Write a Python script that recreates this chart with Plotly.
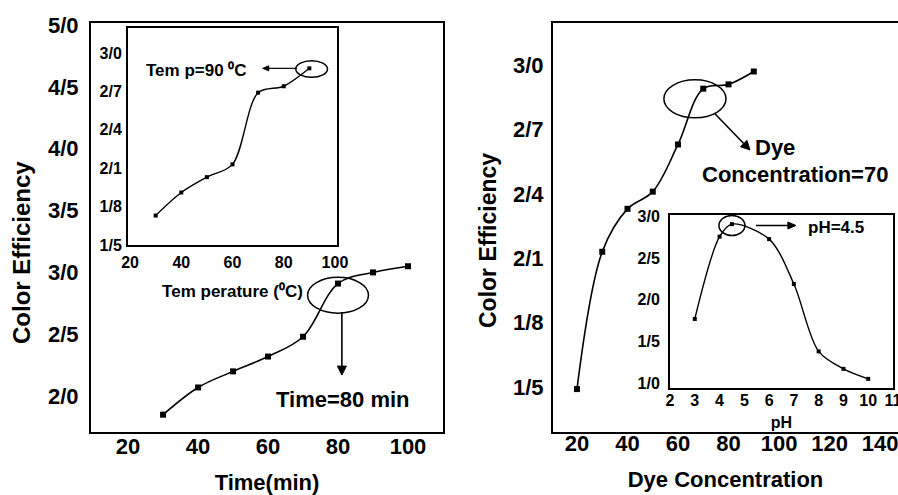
import math
import plotly.graph_objects as go

# ---------------- data ----------------
# Left main: colour efficiency vs time
time_min = [30, 40, 50, 60, 70, 80, 90, 100]
eff_time = [1.85, 2.07, 2.20, 2.32, 2.48, 2.91, 3.00, 3.05]

# Left inset: colour efficiency vs temperature
temp_c = [30, 40, 50, 60, 70, 80, 90]
eff_temp = [1.73, 1.91, 2.03, 2.13, 2.69, 2.74, 2.88]

# Right main: colour efficiency vs dye concentration
dye_conc = [20, 30, 40, 50, 60, 70, 80, 90]
eff_dye = [1.49, 2.13, 2.33, 2.41, 2.63, 2.89, 2.91, 2.97]

# Right inset: colour efficiency vs pH
ph_vals = [3, 4, 4.5, 6, 7, 8, 9, 10]
eff_ph = [1.77, 2.76, 2.91, 2.73, 2.19, 1.38, 1.17, 1.05]

# tick values / labels (decimal separator shown as "/")
time_ticks = [20, 40, 60, 80, 100]
time_eff_ticks = [2.0, 2.5, 3.0, 3.5, 4.0, 4.5, 5.0]
time_eff_labels = ["2/0", "2/5", "3/0", "3/5", "4/0", "4/5", "5/0"]

temp_ticks = [20, 40, 60, 80, 100]
temp_eff_ticks = [1.5, 1.8, 2.1, 2.4, 2.7, 3.0]
temp_eff_labels = ["1/5", "1/8", "2/1", "2/4", "2/7", "3/0"]

dye_ticks = [20, 40, 60, 80, 100, 120, 140]
dye_eff_ticks = [1.5, 1.8, 2.1, 2.4, 2.7, 3.0]
dye_eff_labels = ["1/5", "1/8", "2/1", "2/4", "2/7", "3/0"]

ph_ticks = [2, 3, 4, 5, 6, 7, 8, 9, 10, 11]
ph_eff_ticks = [1.0, 1.5, 2.0, 2.5, 3.0]
ph_eff_labels = ["1/0", "1/5", "2/0", "2/5", "3/0"]

# ---------------- figure ----------------
W, H = 898, 495
FONT = "Arial, 'Liberation Sans', sans-serif"
BIG = 22
SMALL = 16
NOTE = 17
YTITLE = 24


def px_x(p):
    return p / W


def px_y(p):
    return 1 - p / H


# axis geometry: domain (paper fractions) and range
AX = {
    "x": dict(domain=[px_x(91), px_x(443)], range=[9.4, 110]),
    "y": dict(domain=[px_y(432), px_y(23)], range=[1.71, 5.016]),
    "x2": dict(domain=[px_x(128), px_x(337)], range=[19.2, 100.8]),
    "y2": dict(domain=[px_y(245), px_y(28)], range=[1.5, 3.195]),
    "x3": dict(domain=[px_x(553), 1.0], range=[10.5, 147.1]),
    "y3": dict(domain=[px_y(432), px_y(23)], range=[1.29, 3.196]),
    "x4": dict(domain=[px_x(670), px_x(893)], range=[2, 11]),
    "y4": dict(domain=[px_y(388), px_y(215)], range=[0.94, 3.02]),
}


def scale(name):
    a = AX[name]
    span = W if name.startswith("x") else H
    return (a["domain"][1] - a["domain"][0]) * span / (a["range"][1] - a["range"][0])


fig = go.Figure()

line_main = dict(color="black", width=1.6, shape="spline", smoothing=1.0)
line_inset = dict(color="black", width=1.4, shape="spline", smoothing=0.9)

fig.add_trace(go.Scatter(x=time_min, y=eff_time, mode="lines+markers",
                         line=line_main,
                         marker=dict(symbol="square", size=6, color="black"),
                         xaxis="x", yaxis="y"))
fig.add_trace(go.Scatter(x=temp_c, y=eff_temp, mode="lines+markers",
                         line=line_inset,
                         marker=dict(symbol="square", size=4, color="black"),
                         xaxis="x2", yaxis="y2"))
fig.add_trace(go.Scatter(x=dye_conc, y=eff_dye, mode="lines+markers",
                         line=line_main,
                         marker=dict(symbol="square", size=6, color="black"),
                         xaxis="x3", yaxis="y3"))
fig.add_trace(go.Scatter(x=ph_vals, y=eff_ph, mode="lines+markers",
                         line=line_inset,
                         marker=dict(symbol="square", size=4, color="black"),
                         xaxis="x4", yaxis="y4"))


def axis(name, tickvals, ticktext=None, size=BIG, anchor=None,
         mirror=True, standoff=5, title=None, title_standoff=None,
         title_size=None):
    d = dict(domain=AX[name]["domain"], range=AX[name]["range"],
             tickvals=tickvals, automargin=False,
             showgrid=False, zeroline=False, showline=True,
             linecolor="black", linewidth=2, mirror=mirror, ticks="",
             ticklabelstandoff=standoff, ticklabeloverflow="allow",
             tickfont=dict(family=FONT, size=size, color="black", weight="bold"),
             anchor=anchor, fixedrange=True)
    if ticktext is not None:
        d["ticktext"] = ticktext
    if title is not None:
        d["title"] = dict(text=title, standoff=title_standoff,
                          font=dict(family=FONT, size=title_size or size,
                                    color="black", weight="bold"))
    return d


fig.update_layout(
    width=W, height=H,
    margin=dict(l=0, r=0, t=0, b=0, autoexpand=False),
    paper_bgcolor="white", plot_bgcolor="white",
    showlegend=False,
    xaxis=axis("x", time_ticks, anchor="y", standoff=-6,
               title="Time(min)", title_standoff=19),
    yaxis=axis("y", time_eff_ticks, time_eff_labels, anchor="x", standoff=6),
    xaxis2=axis("x2", temp_ticks, size=SMALL, anchor="y2", standoff=2,
                title="Tem perature (\u2070C)", title_standoff=15,
                title_size=NOTE),
    yaxis2=axis("y2", temp_eff_ticks, temp_eff_labels, size=SMALL,
                anchor="x2", standoff=1),
    xaxis3=axis("x3", dye_ticks, anchor="y3", standoff=-9,
                title="Dye Concentration", title_standoff=16),
    yaxis3=axis("y3", dye_eff_ticks, dye_eff_labels, anchor="x3",
                mirror=False, standoff=3),
    xaxis4=axis("x4", ph_ticks, size=SMALL, anchor="y4", standoff=-3,
                title="pH", title_standoff=9),
    yaxis4=axis("y4", ph_eff_ticks, ph_eff_labels, size=SMALL, anchor="x4",
                standoff=5),
)

ell = dict(type="circle", line=dict(color="black", width=1.5),
           fillcolor="rgba(0,0,0,0)", layer="above")
fig.add_shape(xref="x", yref="y", x0=71.3, x1=88.7, y0=2.67, y1=2.96, **ell)
fig.add_shape(xref="x2", yref="y2", x0=84.7, x1=97.1, y0=2.81, y1=2.94, **ell)
fig.add_shape(xref="x3", yref="y3", x0=54.4, x1=79.0, y0=2.754, y1=2.931, **ell)
fig.add_shape(xref="x4", yref="y4", x0=3.975, x1=5.025, y0=2.774, y1=3.014, **ell)


def arrow(xr, yr, tail, tip, head_len=9, head_w=4.5, width=1.6):
    """Arrow drawn with shapes: a shaft line and a filled triangular head."""
    sx, sy = scale(xr), scale(yr)
    dxp = (tip[0] - tail[0]) * sx
    dyp = (tip[1] - tail[1]) * sy
    n = math.hypot(dxp, dyp)
    ux, uy = dxp / n, dyp / n
    bx = tip[0] - ux * head_len / sx
    by = tip[1] - uy * head_len / sy
    px_, py_ = -uy, ux
    b1 = (bx + px_ * head_w / sx, by + py_ * head_w / sy)
    b2 = (bx - px_ * head_w / sx, by - py_ * head_w / sy)
    fig.add_shape(type="line", xref=xr, yref=yr, x0=tail[0], y0=tail[1],
                  x1=bx, y1=by, line=dict(color="black", width=width),
                  layer="above")
    fig.add_shape(type="path", xref=xr, yref=yr,
                  path=f"M {tip[0]},{tip[1]} L {b1[0]},{b1[1]} L {b2[0]},{b2[1]} Z",
                  fillcolor="black", line=dict(color="black", width=1),
                  layer="above")


def label(xr, yr, x, y, text, size, angle=0):
    fig.add_annotation(xref=xr, yref=yr, x=x, y=y, text=text, showarrow=False,
                       textangle=angle, xanchor="center", yanchor="middle",
                       font=dict(family=FONT, size=size, color="black",
                                 weight="bold"))


arrow("x", "y", (81.1, 2.68), (81.1, 2.17))
label("x", "y", 81.4, 1.976, "Time=80 min", BIG)

arrow("x2", "y2", (85.1, 2.88), (71.8, 2.88), head_len=6, head_w=2.5, width=1.2)
label("x2", "y2", 46.0, 2.865, "Tem p=90 \u2070C", NOTE)

arrow("x3", "y3", (74.7, 2.772), (88.5, 2.604))
label("x3", "y3", 98.4, 2.618, "Dye", BIG)
label("x3", "y3", 106.3, 2.488, "Concentration=70", BIG)

arrow("x4", "y4", (5.47, 2.894), (7.08, 2.894), head_len=8, head_w=3.5,
      width=1.5)
label("x4", "y4", 8.7, 2.87, "pH=4.5", NOTE)

# y-axis titles placed where the reference shows them
label("paper", "paper", px_x(22), px_y(253), "Color Efficiency", YTITLE, -90)
label("paper", "paper", px_x(488), px_y(241), "Color Efficiency", YTITLE - 1, -90)

fig.write_html("out.html")
